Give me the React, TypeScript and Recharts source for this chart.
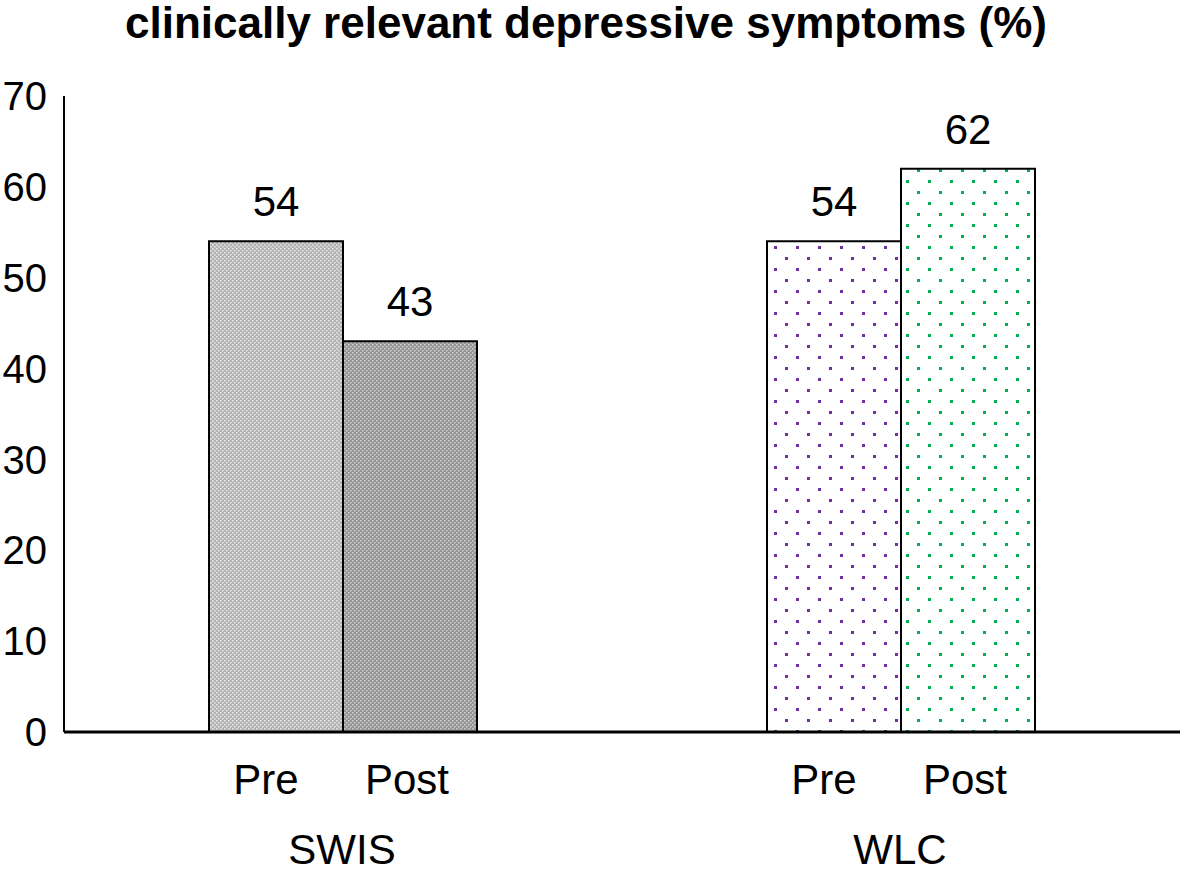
import React from 'react';
import { BarChart, Bar, XAxis, YAxis, Cell, LabelList } from 'recharts';

const categories = ['SWIS', 'WLC'];
const seriesLabels = ['Pre', 'Post'];
const preValues = [54, 54];
const postValues = [43, 62];
const yTicks = [0, 10, 20, 30, 40, 50, 60, 70];
const titleText = 'clinically relevant depressive symptoms (%)';

const preFills = ['url(#grayLight)', 'url(#dotPurple)'];
const postFills = ['url(#grayDark)', 'url(#dotGreen)'];

const data = categories.map((c, i) => ({ name: c, pre: preValues[i], post: postValues[i] }));

const FONT = '"Liberation Sans", Arial, Helvetica, sans-serif';

const XTick = (props: any) => {
  const { x, y, payload } = props;
  return (
    <g>
      <text x={x - 77} y={y + 54} textAnchor="middle" fontSize={42} fontFamily={FONT} fill="#000">
        {seriesLabels[0]}
      </text>
      <text x={x + 64} y={y + 54} textAnchor="middle" fontSize={42} fontFamily={FONT} fill="#000">
        {seriesLabels[1]}
      </text>
      <text x={x - 1} y={y + 124} textAnchor="middle" fontSize={42} fontFamily={FONT} fill="#000">
        {payload.value}
      </text>
    </g>
  );
};

export default function App() {
  return (
    <div style={{ position: 'absolute', left: 0, top: 0, width: 1180, height: 869, background: '#fff' }}>
      <svg width={0} height={0} style={{ position: 'absolute' }}>
        <defs>
          <pattern id="grayLight" width={4} height={4} patternUnits="userSpaceOnUse">
            <rect width={4} height={4} fill="#b2b2b2" />
            <rect x={0} y={0} width={1.6} height={1.6} fill="#e4e4e4" />
            <rect x={2} y={2} width={1.6} height={1.6} fill="#e4e4e4" />
          </pattern>
          <pattern id="grayDark" width={4} height={4} patternUnits="userSpaceOnUse">
            <rect width={4} height={4} fill="#959595" />
            <rect x={0} y={0} width={1.6} height={1.6} fill="#c8c8c8" />
            <rect x={2} y={2} width={1.6} height={1.6} fill="#c8c8c8" />
          </pattern>
          <pattern id="dotPurple" width={22} height={22} patternUnits="userSpaceOnUse" x={0} y={0}>
            <rect width={22} height={22} fill="#fff" />
            <rect x={4} y={4} width={3} height={3} fill="#7030a0" />
            <rect x={15} y={15} width={3} height={3} fill="#7030a0" />
          </pattern>
          <pattern id="dotGreen" width={22} height={22} patternUnits="userSpaceOnUse" x={0} y={0}>
            <rect width={22} height={22} fill="#fff" />
            <rect x={4} y={4} width={3} height={3} fill="#00b050" />
            <rect x={15} y={15} width={3} height={3} fill="#00b050" />
          </pattern>
        </defs>
      </svg>
      <div
        style={{
          position: 'absolute',
          left: 0,
          top: 0,
          width: 1172,
          textAlign: 'center',
          fontFamily: FONT,
          fontWeight: 'bold',
          fontSize: 44,
          lineHeight: '46px',
          color: '#000',
        }}
      >
        {titleText}
      </div>
      <BarChart
        width={1180}
        height={869}
        data={data}
        margin={{ top: 96, right: 0, left: 0, bottom: 0 }}
        barGap={0}
        barSize={134}
      >
        <XAxis
          dataKey="name"
          height={137}
          tickLine={false}
          axisLine={{ stroke: '#000', strokeWidth: 3 }}
          tick={<XTick />}
          interval={0}
        />
        <YAxis
          width={64}
          domain={[0, 70]}
          ticks={yTicks}
          tickLine={false}
          tickSize={0}
          tickMargin={17}
          axisLine={{ stroke: '#000', strokeWidth: 2 }}
          tick={{ fontSize: 40, fontFamily: FONT, fill: '#000' }}
        />
        <Bar dataKey="pre" stroke="#000" strokeWidth={2} isAnimationActive={false}>
          {data.map((d, i) => (
            <Cell key={'pre' + i} fill={preFills[i]} />
          ))}
          <LabelList dataKey="pre" position="top" offset={25} fontSize={42} fontFamily={FONT} fill="#000" />
        </Bar>
        <Bar dataKey="post" stroke="#000" strokeWidth={2} isAnimationActive={false}>
          {data.map((d, i) => (
            <Cell key={'post' + i} fill={postFills[i]} />
          ))}
          <LabelList dataKey="post" position="top" offset={25} fontSize={42} fontFamily={FONT} fill="#000" />
        </Bar>
      </BarChart>
    </div>
  );
}
